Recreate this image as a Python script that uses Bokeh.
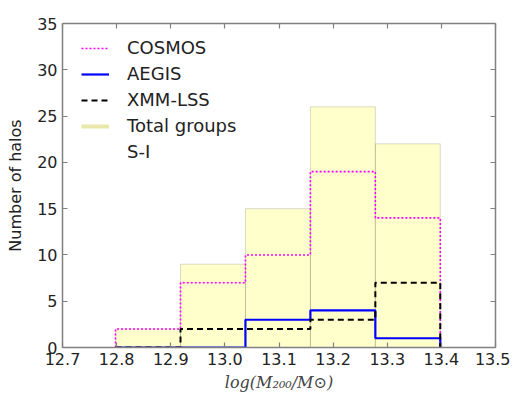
import numpy as np
from bokeh.plotting import figure
from bokeh.models import (LinearAxis, FixedTicker, PrintfTickFormatter, Legend,
                          LegendItem, Range1d, ColumnDataSource, CustomLabelingPolicy)
from bokeh.embed import file_html
from bokeh.resources import INLINE

# ---- data ----
bin_edges = [12.798, 12.918, 13.038, 13.158, 13.278, 13.398]
total_groups = [2, 9, 15, 26, 22]
cosmos = [2, 7, 10, 19, 14]
aegis = [0, 0, 3, 4, 1]
xmm_lss = [0, 2, 2, 3, 7]
x_ticks = [12.7, 12.8, 12.9, 13.0, 13.1, 13.2, 13.3, 13.4, 13.5]
y_ticks = [0, 5, 10, 15, 20, 25, 30, 35]


def outline(edges, vals):
    xs = np.repeat(np.asarray(edges, float), 2)
    ys = np.concatenate([[0], np.repeat(np.asarray(vals, float), 2), [0]])
    return xs, ys


FONT = "DejaVu Sans"
AX = "#808080"

p = figure(width=510, height=395, output_backend="svg", toolbar_location=None,
           x_range=Range1d(12.7, 13.5), y_range=Range1d(0, 35),
           min_border_left=62, min_border_top=23, min_border_right=15,
           min_border_bottom=48)
p.xgrid.visible = False
p.ygrid.visible = False
p.outline_line_color = None
p.background_fill_color = "white"

p.quad(left=bin_edges[:-1], right=bin_edges[1:], bottom=0, top=total_groups,
       fill_color="yellow", fill_alpha=0.2, line_color="black", line_alpha=0.15,
       line_width=1)

xs, ys = outline(bin_edges, cosmos)
r_cos = p.line(xs, ys, line_color="#ff00ff", line_width=1.6, line_dash="2 2")
xs, ys = outline(bin_edges, aegis)
r_aeg = p.line(xs, ys, line_color="#0000ff", line_width=2.2)
xs, ys = outline(bin_edges, xmm_lss)
r_xmm = p.line(xs, ys, line_color="black", line_width=2, line_dash="6 4")

nan_src = ColumnDataSource(data=dict(x=[np.nan], y=[np.nan]))
r_tot = p.line("x", "y", source=nan_src, line_color="#e8e8aa", line_width=4)
r_si = p.line("x", "y", source=nan_src, line_alpha=0)

legend = Legend(items=[
    LegendItem(label="COSMOS", renderers=[r_cos]),
    LegendItem(label="AEGIS", renderers=[r_aeg]),
    LegendItem(label="XMM-LSS", renderers=[r_xmm]),
    LegendItem(label="Total groups", renderers=[r_tot]),
    LegendItem(label="S-I", renderers=[r_si]),
], location=(19, 185))
legend.border_line_alpha = 0
legend.background_fill_alpha = 0
legend.padding = 0
legend.margin = 0
legend.glyph_width = 28
legend.glyph_height = 20
legend.label_height = 20
legend.spacing = 5
legend.label_standoff = 18
legend.label_text_font = FONT
legend.label_text_font_size = "18px"
legend.label_text_color = "#222222"
p.add_layout(legend)

no_labels = CustomLabelingPolicy(code="return new Set()")


def style_axis(ax, labels=True):
    ax.axis_line_color = AX
    ax.axis_line_width = 1.5
    ax.major_tick_line_color = AX
    ax.major_tick_line_width = 1.2
    ax.major_tick_in = 5
    ax.major_tick_out = 0
    ax.minor_tick_line_color = None
    ax.major_label_text_font = FONT
    ax.major_label_text_font_size = "16px"
    ax.major_label_text_color = "#222222"
    if not labels:
        ax.major_label_policy = no_labels
        ax.major_label_standoff = 0
        ax.major_label_text_font_size = "1px"


xa = p.xaxis[0]
xa.ticker = FixedTicker(ticks=x_ticks)
xa.formatter = PrintfTickFormatter(format="%.1f")
xa.major_label_standoff = 5
xa.axis_label = "log(M₂₀₀/M⊙)"
xa.axis_label_text_font = "DejaVu Serif"
xa.axis_label_text_font_style = "italic"
xa.axis_label_text_font_size = "16px"
xa.axis_label_text_color = "#444444"
xa.axis_label_standoff = 5
style_axis(xa)

ya = p.yaxis[0]
ya.ticker = FixedTicker(ticks=y_ticks)
ya.major_label_standoff = 5
ya.axis_label = "Number of halos"
ya.axis_label_text_font = FONT
ya.axis_label_text_font_style = "normal"
ya.axis_label_text_font_size = "16px"
ya.axis_label_text_color = "#222222"
ya.axis_label_standoff = 9
style_axis(ya)

top = LinearAxis(ticker=FixedTicker(ticks=x_ticks))
style_axis(top, labels=False)
p.add_layout(top, "above")
right = LinearAxis(ticker=FixedTicker(ticks=y_ticks))
style_axis(right, labels=False)
p.add_layout(right, "right")

open("out.html", "w").write(file_html(p, INLINE))
